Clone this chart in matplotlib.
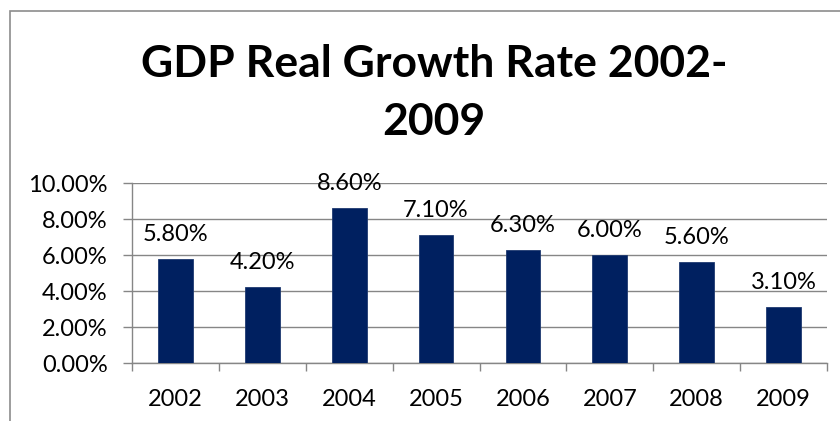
import matplotlib
matplotlib.use("Agg")
import matplotlib.pyplot as plt
from matplotlib.patches import Rectangle
import numpy as np

plt.rcParams['font.family'] = ['Lato', 'DejaVu Sans']

years = ["2002", "2003", "2004", "2005", "2006", "2007", "2008", "2009"]
growth = [5.8, 4.2, 8.6, 7.1, 6.3, 6.0, 5.6, 3.1]
yticks = [0, 2, 4, 6, 8, 10]

grid_col = "#868686"
bar_col = "#002060"

fig = plt.figure(figsize=(8.4, 4.21), dpi=100)
ax = fig.add_axes([132/840, 1 - 363/421, (827 - 132)/840, 180/421])

x = np.arange(len(years))
ax.bar(x, growth, width=0.4, color=bar_col, edgecolor="#1f3a70", linewidth=0.6, zorder=3)

for xi, v in zip(x, growth):
    ax.annotate(f"{v:.2f}%", (xi, v), xytext=(0, 13), textcoords="offset points",
                ha="center", va="baseline", fontsize=17, color="#000000")

ax.set_xlim(-0.5, len(years) - 0.5)
ax.set_ylim(0, 10)
ax.set_yticks(yticks)
ax.set_yticklabels([f"{t:.2f}%" for t in yticks], fontsize=17)
ax.set_xticks(x)
ax.set_xticklabels(years, fontsize=17)
ax.set_xticks(np.arange(-0.5, len(years)), minor=True)
ax.tick_params(axis="x", which="major", length=0, pad=19)
ax.tick_params(axis="x", which="minor", length=6, width=1.0, color=grid_col)
ax.tick_params(axis="y", length=6.5, width=1.0, color=grid_col, pad=11)
ax.yaxis.grid(True, color=grid_col, linewidth=1.0, zorder=0)
ax.set_axisbelow(True)

for s in ["top", "right"]:
    ax.spines[s].set_visible(False)
for s in ["left", "bottom"]:
    ax.spines[s].set_color(grid_col)
    ax.spines[s].set_linewidth(1.0)

# outer chart border (runs off the right and bottom of the image)
fig.patches.append(Rectangle((10/840, -0.1), 1.2, 1 - 11/421 + 0.1,
                             transform=fig.transFigure, fill=False,
                             edgecolor="#8c8c8c", linewidth=1.2))

fig.text(434/840, 1 - 64/421, "GDP Real Growth Rate 2002-", ha="center", va="center",
         fontsize=32, fontweight="bold")
fig.text(434/840, 1 - 122/421, "2009", ha="center", va="center",
         fontsize=32, fontweight="bold")

fig.savefig("out.png", dpi=100)
